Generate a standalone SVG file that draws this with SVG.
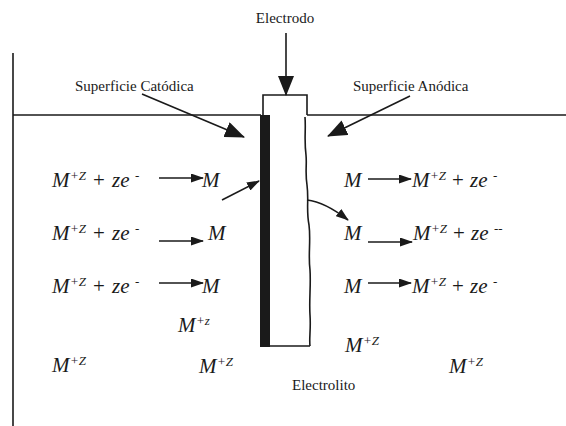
<svg xmlns="http://www.w3.org/2000/svg" width="566" height="426" viewBox="0 0 566 426">
<style>
text{font-family:'Liberation Serif','DejaVu Serif','Times New Roman',serif;fill:#1a1a1a}
.lbl{font-size:15px}
.m{font-size:21px;font-style:italic}
.up{font-size:13px}
.rg{font-style:normal}
.ln{stroke:#1a1a1a;stroke-width:1.6;fill:none}
</style>
<defs>
<marker id="ah" markerWidth="13" markerHeight="9" refX="12" refY="4.5" orient="auto" markerUnits="userSpaceOnUse">
<path d="M0,0 L13,4.5 L0,9 Z" fill="#1a1a1a"/>
</marker>
<marker id="big" markerWidth="20" markerHeight="16" refX="19" refY="8" orient="auto" markerUnits="userSpaceOnUse">
<path d="M0,0 L20,8 L0,16 Z" fill="#1a1a1a"/>
</marker>
</defs>
<rect width="566" height="426" fill="#fff"/>

<g id="vessel">
<line class="ln" x1="13" y1="53" x2="13" y2="426"/>
<line class="ln" x1="13" y1="115" x2="261" y2="115"/>
<line class="ln" x1="307" y1="115" x2="566" y2="115"/>
</g>

<g id="electrode">
<path class="ln" d="M263,115 L263,95 L307,95 L307,115"/>
<rect x="260" y="115" width="10" height="232" fill="#1a1a1a"/>
<path class="ln" d="M270,346 L310,346"/>
<path class="ln" d="M305,117 C306,130 304,140 306,155 C307,165 305,172 307,185 C309,200 306,210 309,225 C311,240 308,255 310,270 C311,285 309,300 310,315 C311,330 309,338 310,346"/>
</g>

<g id="labels">
<text class="lbl" x="285" y="23" text-anchor="middle">Electrodo</text>
<text class="lbl" x="75" y="91">Superficie Catódica</text>
<text class="lbl" x="353" y="91">Superficie Anódica</text>
<text class="lbl" x="292" y="390">Electrolito</text>
</g>

<g id="connectors">
<line class="ln" x1="286" y1="33" x2="286" y2="95" marker-end="url(#big)"/>
<line class="ln" x1="142" y1="94" x2="244" y2="137" marker-end="url(#big)"/>
<line class="ln" x1="410" y1="96" x2="328" y2="136" marker-end="url(#big)"/>
<line class="ln" x1="222" y1="200" x2="259" y2="181" marker-end="url(#ah)"/>
<path class="ln" d="M307,200 Q325,202 348,220" marker-end="url(#ah)"/>
<line class="ln" x1="159" y1="178" x2="203" y2="178" marker-end="url(#ah)"/>
<line class="ln" x1="159" y1="241" x2="203" y2="241" marker-end="url(#ah)"/>
<line class="ln" x1="159" y1="283" x2="203" y2="283" marker-end="url(#ah)"/>
<line class="ln" x1="368" y1="179" x2="411" y2="179" marker-end="url(#ah)"/>
<line class="ln" x1="368" y1="242" x2="412" y2="242" marker-end="url(#ah)"/>
<line class="ln" x1="368" y1="283" x2="411" y2="283" marker-end="url(#ah)"/>
</g>

<g id="cathode-eqs">
<text class="m" y="187"><tspan x="52">M</tspan><tspan class="up" x="70" y="180">+Z</tspan><tspan class="rg" x="93" y="187">+</tspan><tspan x="112">ze</tspan><tspan class="up" x="135" y="180">-</tspan></text>
<text class="m" x="202" y="187">M</text>
<text class="m" y="240"><tspan x="52">M</tspan><tspan class="up" x="70" y="233">+Z</tspan><tspan class="rg" x="93" y="240">+</tspan><tspan x="112">ze</tspan><tspan class="up" x="135" y="233">-</tspan></text>
<text class="m" x="208" y="240">M</text>
<text class="m" y="293"><tspan x="52">M</tspan><tspan class="up" x="70" y="286">+Z</tspan><tspan class="rg" x="93" y="293">+</tspan><tspan x="112">ze</tspan><tspan class="up" x="135" y="286">-</tspan></text>
<text class="m" x="202" y="293">M</text>
</g>

<g id="anode-eqs">
<text class="m" x="344" y="187">M</text>
<text class="m" y="187"><tspan x="412">M</tspan><tspan class="up" x="430" y="180">+Z</tspan><tspan class="rg" x="452" y="187">+</tspan><tspan x="470">ze</tspan><tspan class="up" x="493" y="180">-</tspan></text>
<text class="m" x="344" y="240">M</text>
<text class="m" y="240"><tspan x="413">M</tspan><tspan class="up" x="431" y="233">+Z</tspan><tspan class="rg" x="453" y="240">+</tspan><tspan x="471">ze</tspan><tspan class="up" x="494" y="233">--</tspan></text>
<text class="m" x="344" y="293">M</text>
<text class="m" y="293"><tspan x="412">M</tspan><tspan class="up" x="430" y="286">+Z</tspan><tspan class="rg" x="452" y="293">+</tspan><tspan x="470">ze</tspan><tspan class="up" x="493" y="286">-</tspan></text>
</g>

<g id="ions">
<text class="m" y="332"><tspan x="178">M</tspan><tspan class="up" x="196" y="325">+z</tspan></text>
<text class="m" y="372"><tspan x="52">M</tspan><tspan class="up" x="70" y="365">+Z</tspan></text>
<text class="m" y="373"><tspan x="199">M</tspan><tspan class="up" x="217" y="366">+Z</tspan></text>
<text class="m" y="352"><tspan x="345">M</tspan><tspan class="up" x="363" y="345">+Z</tspan></text>
<text class="m" y="373"><tspan x="449">M</tspan><tspan class="up" x="467" y="366">+Z</tspan></text>
</g>
</svg>
